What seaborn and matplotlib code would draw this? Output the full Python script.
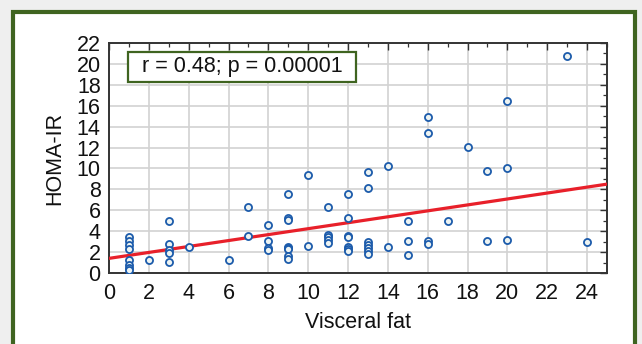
import numpy as np
import pandas as pd
import matplotlib
matplotlib.use("Agg")
import matplotlib.pyplot as plt
from matplotlib.patches import Rectangle
from matplotlib.ticker import MultipleLocator
import seaborn as sns

# ---- data ----
visceral_fat = [1, 1, 1, 1, 1, 1, 1, 1,
                2,
                3, 3, 3, 3, 3,
                4,
                6,
                7, 7,
                8, 8, 8, 8,
                9, 9, 9, 9, 9, 9, 9, 9,
                10, 10,
                11, 11, 11, 11, 11,
                12, 12, 12, 12, 12, 12, 12,
                13, 13, 13, 13, 13, 13, 13,
                14, 14,
                15, 15, 15,
                16, 16, 16, 16,
                17,
                18,
                19, 19,
                20, 20, 20,
                23,
                24]
homa_ir = [3.4, 3.1, 2.7, 2.3, 1.2, 0.8, 0.5, 0.3,
           1.2,
           5.0, 2.8, 2.2, 1.9, 1.1,
           2.5,
           1.2,
           6.3, 3.5,
           4.6, 3.1, 2.4, 2.2,
           7.6, 5.3, 5.1, 2.5, 2.4, 2.3, 1.6, 1.3,
           9.4, 2.6,
           6.3, 3.6, 3.4, 3.2, 2.9,
           7.6, 5.3, 3.5, 3.4, 2.5, 2.3, 2.1,
           9.7, 8.1, 3.0, 2.7, 2.4, 2.1, 1.8,
           10.2, 2.5,
           5.0, 3.1, 1.7,
           14.9, 13.4, 3.1, 2.75,
           4.95,
           12.1,
           9.8, 3.1,
           16.5, 10.0, 3.2,
           20.8,
           3.0]
fit_x = [0, 25]
fit_y = [1.4, 8.5]
x_ticks = list(range(0, 25, 2))
y_ticks = list(range(0, 23, 2))
annotation = "r = 0.48; p = 0.00001"
x_label = "Visceral fat"
y_label = "HOMA-IR"

df = pd.DataFrame({"x": visceral_fat, "y": homa_ir})
fit_df = pd.DataFrame({"x": fit_x, "y": fit_y})

sns.set_theme(style="white")
plt.rcParams["font.family"] = ["Liberation Sans", "DejaVu Sans"]

W, H = 642, 344
fig = plt.figure(figsize=(W / 100, H / 100), dpi=100)
fig.patch.set_facecolor("#efefef")

green = "#3f6420"
# outer green frame with white inside
frame = Rectangle((13 / W, -0.05), (635 - 13) / W, (H - 12.5) / H + 0.05,
                  transform=fig.transFigure, facecolor="white",
                  edgecolor=green, linewidth=3.0, zorder=-5)
fig.patches.append(frame)

ax = fig.add_axes([109 / W, 1 - 273 / H, (607 - 109) / W, (273 - 43) / H])
ax.set_zorder(2)
ax.set_facecolor("white")

ax.grid(True, which="major", color="#d2d2d2", linewidth=1.2, linestyle="-")
ax.set_axisbelow(True)

sns.lineplot(data=fit_df, x="x", y="y", ax=ax, color="#e8202a",
             linewidth=2.3, zorder=3)
sns.scatterplot(data=df, x="x", y="y", ax=ax, marker="o", s=26,
                facecolor="#eef4f2", edgecolor="#1c5bab", linewidth=1.3,
                zorder=4)

ax.set_xlim(0, 25)
ax.set_ylim(0, 22)
ax.set_xticks(x_ticks)
ax.set_yticks(y_ticks)
ax.xaxis.set_minor_locator(MultipleLocator(1))
ax.yaxis.set_minor_locator(MultipleLocator(1))
ax.tick_params(which="both", direction="in", top=True, right=True,
               colors="#333333", labelcolor="#111111")
ax.tick_params(which="major", length=5, width=1.0, labelsize=15.5)
ax.tick_params(axis="x", which="major", pad=7)
ax.tick_params(axis="y", which="major", pad=6)
ax.tick_params(which="minor", length=3, width=0.9)
for s in ax.spines.values():
    s.set_color("#333333")
    s.set_linewidth(1.4)

ax.set_xlabel(x_label, fontsize=15.5, color="#111111", labelpad=6)
ax.set_ylabel(y_label, fontsize=15.5, color="#111111", labelpad=8)

# annotation box
ax.add_patch(Rectangle((0.0388, 0.829), 0.458, 0.133, transform=ax.transAxes,
                       facecolor="white", edgecolor=green, linewidth=1.6,
                       zorder=5))
ax.text(0.268, 0.896, annotation, transform=ax.transAxes, ha="center",
        va="center", fontsize=15.5, color="#111111", zorder=6)

fig.savefig("out.png", dpi=100, facecolor=fig.get_facecolor())
